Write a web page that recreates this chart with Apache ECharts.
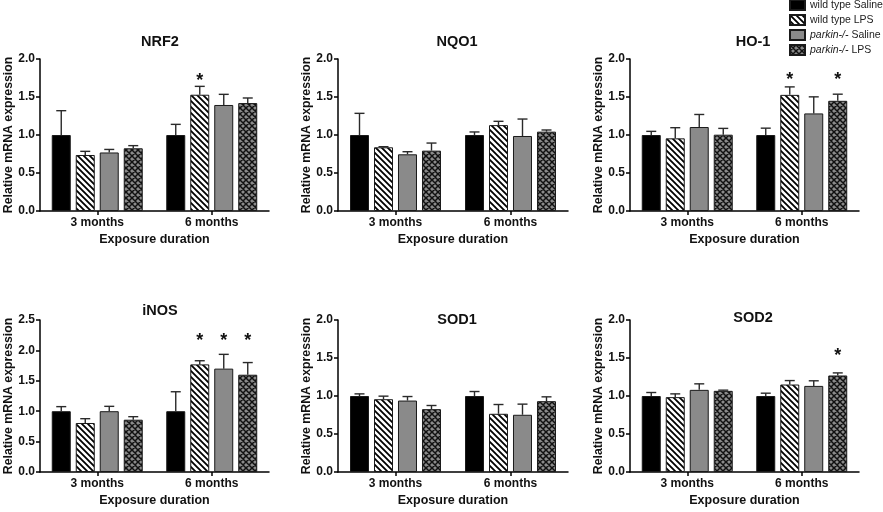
<!DOCTYPE html>
<html>
<head>
<meta charset="utf-8">
<script src="https://cdn.jsdelivr.net/npm/echarts@6/dist/echarts.min.js"></script>
<style>
html,body{margin:0;padding:0;background:#fff;}
#chart{width:883px;height:512px;}
</style>
</head>
<body>
<div id="chart"></div>
<script>
// ---------- data ----------
const categories = ['3 months', '6 months'];
const groupNames = ['wild type Saline', 'wild type LPS', 'parkin-/- Saline', 'parkin-/- LPS'];
const panelTitles = ['NRF2', 'NQO1', 'HO-1', 'iNOS', 'SOD1', 'SOD2'];
const yMaxes = [2, 2, 2, 2.5, 2, 2];

// means [3 months, 6 months] per group (WT Saline, WT LPS, parkin Saline, parkin LPS)
const nrf2Mean = [[1.0, 1.0], [0.737, 1.53], [0.77, 1.395], [0.825, 1.42]];
const nrf2Sem  = [[0.32, 0.14], [0.048, 0.11], [0.04, 0.14], [0.035, 0.067]];
const nrf2Sig  = [[0, 0], [0, 1], [0, 0], [0, 0]];

const nqo1Mean = [[1.0, 1.0], [0.838, 1.13], [0.746, 0.987], [0.794, 1.044]];
const nqo1Sem  = [[0.285, 0.04], [0.008, 0.05], [0.034, 0.223], [0.10, 0.022]];
const nqo1Sig  = [[0, 0], [0, 0], [0, 0], [0, 0]];

const ho1Mean = [[1.0, 1.0], [0.956, 1.528], [1.105, 1.284], [1.004, 1.45]];
const ho1Sem  = [[0.048, 0.09], [0.14, 0.105], [0.165, 0.218], [0.083, 0.087]];
const ho1Sig  = [[0, 0], [0, 1], [0, 0], [0, 1]];

const inosMean = [[1.0, 1.0], [0.806, 1.77], [1.0, 1.70], [0.86, 1.60]];
const inosSem  = [[0.075, 0.32], [0.071, 0.06], [0.08, 0.235], [0.05, 0.20]];
const inosSig  = [[0, 0], [0, 1], [0, 1], [0, 1]];

const sod1Mean = [[1.0, 1.0], [0.958, 0.766], [0.94, 0.753], [0.827, 0.932]];
const sod1Sem  = [[0.028, 0.059], [0.04, 0.122], [0.053, 0.14], [0.048, 0.057]];
const sod1Sig  = [[0, 0], [0, 0], [0, 0], [0, 0]];

const sod2Mean = [[1.0, 1.0], [0.985, 1.151], [1.081, 1.133], [1.068, 1.27]];
const sod2Sem  = [[0.046, 0.037], [0.043, 0.052], [0.079, 0.067], [0.009, 0.034]];
const sod2Sig  = [[0, 0], [0, 0], [0, 0], [0, 1]];

// height (data units) at which significance asterisks sit, per panel
const starLevels = [1.76, null, 1.776, 2.215, null, 1.575];

const panelMeans = [nrf2Mean, nqo1Mean, ho1Mean, inosMean, sod1Mean, sod2Mean];
const panelSems  = [nrf2Sem, nqo1Sem, ho1Sem, inosSem, sod1Sem, sod2Sem];
const panelSigs  = [nrf2Sig, nqo1Sig, ho1Sig, inosSig, sod1Sig, sod2Sig];

// ---------- styles ----------
const FONT = "'Liberation Sans', Arial, sans-serif";
const GRAY = '#8a8a8a';
const BAR_W = 19, BAR_GAP = 5;

function makeStripes() {
  const p = 6, c = document.createElement('canvas');
  c.width = p; c.height = p;
  const g = c.getContext('2d');
  g.fillStyle = '#fff'; g.fillRect(0, 0, p, p);
  g.strokeStyle = '#000'; g.lineWidth = 1.8;
  g.beginPath();
  g.moveTo(-1, -1); g.lineTo(p + 1, p + 1);
  g.moveTo(-1, p - 1); g.lineTo(1, p + 1);
  g.moveTo(p - 1, -1); g.lineTo(p + 1, 1);
  g.stroke();
  return c;
}
function makeCross() {
  const p = 6, c = document.createElement('canvas');
  c.width = p; c.height = p;
  const g = c.getContext('2d');
  g.fillStyle = GRAY; g.fillRect(0, 0, p, p);
  g.strokeStyle = '#111'; g.lineWidth = 1.5;
  g.beginPath();
  g.moveTo(-1, -1); g.lineTo(p + 1, p + 1);
  g.moveTo(-1, p - 1); g.lineTo(1, p + 1);
  g.moveTo(p - 1, -1); g.lineTo(p + 1, 1);
  g.moveTo(p + 1, -1); g.lineTo(-1, p + 1);
  g.moveTo(1, -1); g.lineTo(-1, 1);
  g.moveTo(p + 1, p - 1); g.lineTo(p - 1, p + 1);
  g.stroke();
  return c;
}
const groupColors = [
  '#000000',
  { image: makeStripes(), repeat: 'repeat' },
  GRAY,
  { image: makeCross(), repeat: 'repeat' }
];

// grid layout (pixels)
const gridBoxes = [
  { left: 40, top: 59, width: 229, height: 152 },
  { left: 338, top: 59, width: 230, height: 152 },
  { left: 630, top: 59, width: 229, height: 152 },
  { left: 40, top: 320, width: 229, height: 152 },
  { left: 338, top: 320, width: 230, height: 152 },
  { left: 630, top: 320, width: 229, height: 152 }
];
const titlePos = [
  { x: 155, y: 29 }, { x: 452, y: 29 }, { x: 748, y: 29 },
  { x: 155, y: 298 }, { x: 452, y: 307 }, { x: 748, y: 305 }
];

const axisLineStyle = { color: '#000', width: 1.5 };
const grids = [], xAxes = [], yAxes = [], series = [], titles = [];

gridBoxes.forEach((b, i) => {
  grids.push(Object.assign({ containLabel: false }, b));
  titles.push({
    text: panelTitles[i], left: titlePos[i].x, top: titlePos[i].y, textAlign: 'center',
    textStyle: { fontFamily: FONT, fontWeight: 'bold', fontSize: 14.5, color: '#111' }
  });
  xAxes.push({
    type: 'category', gridIndex: i, data: categories,
    axisLine: { lineStyle: axisLineStyle },
    axisTick: { show: true, alignWithLabel: true, length: 4, lineStyle: axisLineStyle },
    axisLabel: { fontFamily: FONT, fontWeight: 'bold', fontSize: 12, color: '#111', margin: 6 },
    name: 'Exposure duration', nameLocation: 'middle', nameGap: 22,
    nameTextStyle: { fontFamily: FONT, fontWeight: 'bold', fontSize: 12.5, color: '#111' }
  });
  yAxes.push({
    type: 'value', gridIndex: i, min: 0, max: yMaxes[i], interval: 0.5,
    splitLine: { show: false },
    axisLine: { show: true, lineStyle: axisLineStyle },
    axisTick: { show: true, length: 4, lineStyle: axisLineStyle },
    axisLabel: { fontFamily: FONT, fontWeight: 'bold', fontSize: 12, color: '#111', margin: 5,
      formatter: v => v.toFixed(1) },
    name: 'Relative mRNA expression', nameLocation: 'middle', nameGap: 23,
    nameTextStyle: { fontFamily: FONT, fontWeight: 'bold', fontSize: 12.3, color: '#111' }
  });
  groupNames.forEach((gname, g) => {
    series.push({
      type: 'bar', name: gname, xAxisIndex: i, yAxisIndex: i,
      data: panelMeans[i][g],
      barWidth: BAR_W, barGap: (BAR_GAP / BAR_W * 100).toFixed(1) + '%',
      itemStyle: { color: groupColors[g], borderColor: '#1a1a1a', borderWidth: 1 },
      emphasis: { disabled: true },
      animation: false
    });
  });
  // error bars + significance
  const errData = [];
  groupNames.forEach((gname, g) => {
    categories.forEach((c, k) => {
      errData.push([k, panelMeans[i][g][k], panelSems[i][g][k], g, panelSigs[i][g][k]]);
    });
  });
  const starLevel = starLevels[i];
  series.push({
    type: 'custom', xAxisIndex: i, yAxisIndex: i, data: errData, z: 5,
    encode: { x: 0, y: 1 }, animation: false, silent: true,
    renderItem: function (params, api) {
      const k = api.value(0), m = api.value(1), s = api.value(2), g = api.value(3), sig = api.value(4);
      const base = api.coord([k, m]);
      const top = api.coord([k, m + s]);
      const x = base[0] + (g - 1.5) * (BAR_W + BAR_GAP);
      const ls = { stroke: '#2a2a2a', lineWidth: 1.4 };
      const children = [
        { type: 'line', shape: { x1: x, y1: base[1], x2: x, y2: top[1] }, style: ls },
        { type: 'line', shape: { x1: x - 5, y1: top[1], x2: x + 5, y2: top[1] }, style: ls }
      ];
      if (sig && starLevel != null) {
        const sp = api.coord([k, starLevel]);
        children.push({
          type: 'text', x: x, y: sp[1] + 4,
          style: { text: '*', fill: '#111', font: 'bold 18px ' + FONT, align: 'center', verticalAlign: 'middle' }
        });
      }
      return { type: 'group', children: children };
    }
  });
});

const chart = echarts.init(document.getElementById('chart'), null, { renderer: 'canvas' });
chart.setOption({
  backgroundColor: '#fff',
  animation: false,
  title: titles,
  grid: grids,
  xAxis: xAxes,
  yAxis: yAxes,
  legend: {
    orient: 'vertical', left: 789, top: -2, padding: 0,
    icon: 'rect',
    itemWidth: 15, itemHeight: 10, itemGap: 1,
    selectedMode: false,
    data: groupNames,
    textStyle: {
      fontFamily: FONT, fontSize: 10.5, color: '#222', lineHeight: 14,
      rich: { i: { fontFamily: FONT, fontSize: 10.5, fontStyle: 'italic', color: '#222', lineHeight: 14 } }
    },
    formatter: function (name) {
      if (name.indexOf('parkin-/-') === 0) return '{i|parkin-/-}' + name.slice(9);
      return name;
    }
  },
  series: series
});
</script>
</body>
</html>
